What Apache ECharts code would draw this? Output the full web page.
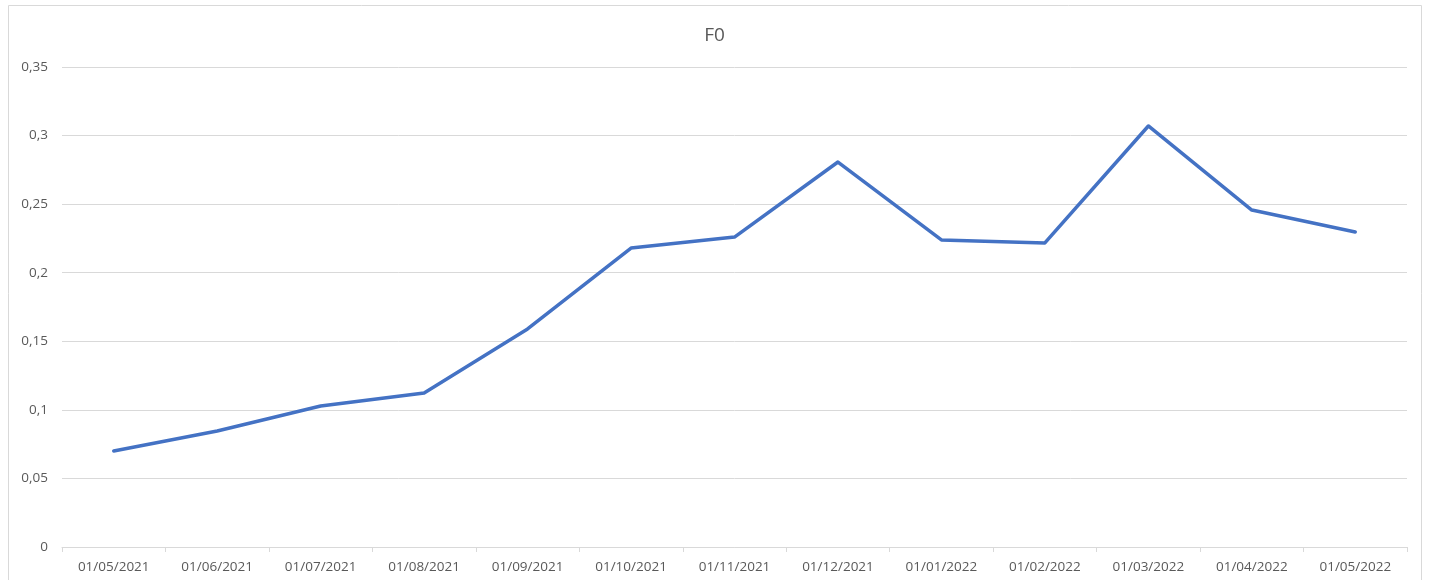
<!DOCTYPE html>
<html><head><meta charset="utf-8">
<script src="https://cdn.jsdelivr.net/npm/echarts@6/dist/echarts.min.js"></script>
<style>html,body{margin:0;padding:0;background:#fff}#c{width:1429px;height:580px}</style>
</head><body><div id="c"></div>
<script>
const categories = ['01/05/2021','01/06/2021','01/07/2021','01/08/2021','01/09/2021','01/10/2021','01/11/2021','01/12/2021','01/01/2022','01/02/2022','01/03/2022','01/04/2022','01/05/2022'];
const values = [0.070, 0.0846, 0.1028, 0.1123, 0.159, 0.218, 0.226, 0.2807, 0.2239, 0.2217, 0.307, 0.2457, 0.2297];
const titleText = 'F0';

const chart = echarts.init(document.getElementById('c'));
const font = '"Open Sans", "Liberation Sans", sans-serif';
chart.setOption({
  animation: false,
  title: { text: titleText, left: 'center', top: 21, textStyle: { color: '#595959', fontSize: 19, fontWeight: 'normal', fontFamily: font } },
  graphic: [{ type: 'rect', shape: { x: 8.5, y: 5.5, width: 1413, height: 600 }, style: { fill: 'none', stroke: '#d9d9d9', lineWidth: 1 }, silent: true }],
  grid: { left: 62, right: 22, top: 67, bottom: 33 },
  xAxis: {
    type: 'category', data: categories, boundaryGap: true,
    axisLine: { lineStyle: { color: '#d9d9d9', width: 1 } },
    axisTick: { show: true, length: 5, lineStyle: { color: '#d9d9d9' } },
    axisLabel: { color: '#595959', fontSize: 13.5, fontFamily: font, margin: 13 }
  },
  yAxis: {
    type: 'value', min: 0, max: 0.35, interval: 0.05,
    axisLine: { show: false }, axisTick: { show: false },
    splitLine: { lineStyle: { color: '#d9d9d9', width: 1 } },
    axisLabel: { color: '#595959', fontSize: 13.5, fontFamily: font, margin: 14,
      formatter: v => (Math.round(v * 100) / 100).toString().replace('.', ',') }
  },
  series: [{ type: 'line', data: values, showSymbol: false, symbol: 'none',
    lineStyle: { color: '#4472c4', width: 3.5, cap: 'round', join: 'round' } }]
});
</script></body></html>
